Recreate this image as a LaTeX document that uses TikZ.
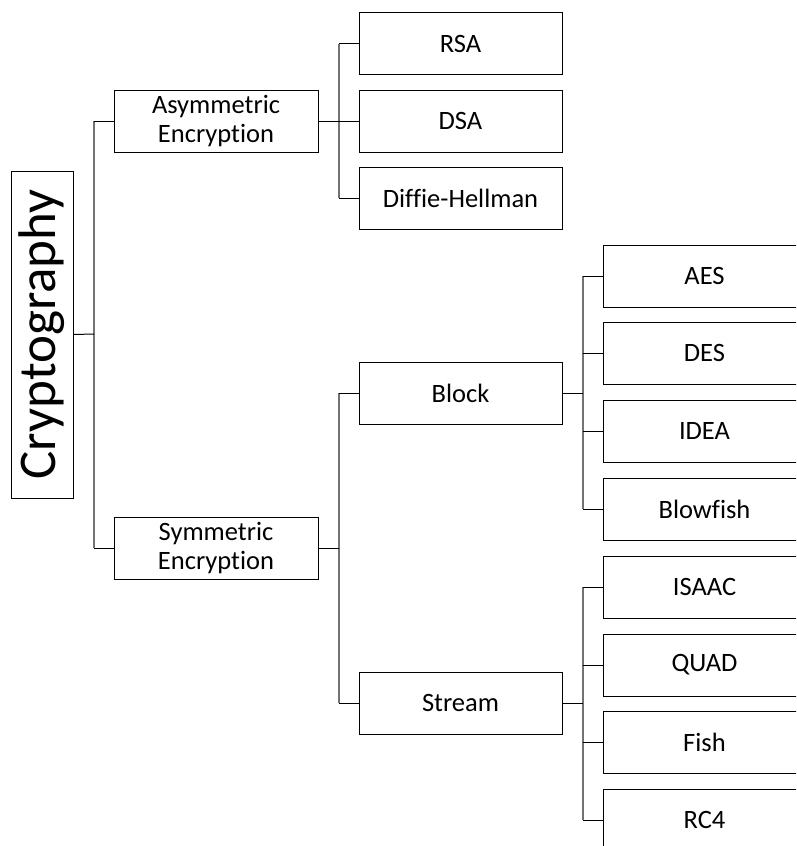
\documentclass[tikz,border=0pt]{standalone}
\usepackage{fontspec}
\setmainfont[Ligatures={NoCommon,NoRare}]{Carlito}
\begin{document}
\begin{tikzpicture}[x=1pt,y=-1pt,
  box/.style={draw=black,line width=1pt,minimum width=203pt,minimum height=62pt,inner sep=0pt,align=center,font=\fontsize{26.5}{29}\selectfont},
  stub/.style={draw=black,line width=1pt},
  spine/.style={draw=black!55,line width=1.3pt}]
\useasboundingbox (0,0) rectangle (796,846);
\clip (0,0) rectangle (796,846);
\node[draw=black,line width=1pt,minimum width=327pt,minimum height=62pt,inner sep=0pt,rotate=90,font=\fontsize{53}{56}\selectfont] (crypto) at (42,334.5) {Cryptography};
\node[box,minimum width=204pt] (asym) at (216,121) {Asymmetric\\Encryption};
\node[box,minimum width=204pt] (sym) at (216,548) {Symmetric\\Encryption};
\node[box] (rsa) at (460.5,43.5) {RSA};
\node[box] (dsa) at (460.5,121) {DSA};
\node[box] (dh) at (460.5,198) {Diffie-Hellman};
\node[box] (block) at (460.5,393) {Block};
\node[box] (stream) at (460.5,703) {Stream};
\node[box] (aes) at (704.5,276) {AES};
\node[box] (des) at (704.5,353) {DES};
\node[box] (idea) at (704.5,431) {IDEA};
\node[box] (blowfish) at (704.5,509) {Blowfish};
\node[box] (isaac) at (704.5,587) {ISAAC};
\node[box] (quad) at (704.5,665) {QUAD};
\node[box] (fish) at (704.5,742) {Fish};
\node[box] (rc4) at (704.5,820) {RC4};
% spine coordinates
\coordinate (c0) at (94,334);
\coordinate (c1) at (339,121);
\coordinate (c2) at (339,548);
\coordinate (c3) at (583,393);
\coordinate (c4) at (583,703);
% root
\draw[spine] (c0 |- asym.west) -- (c0 |- sym.west);
\draw[stub] (crypto.south) -- (c0);
\draw[stub] (c0 |- asym.west) -- (asym.west);
\draw[stub] (c0 |- sym.west) -- (sym.west);
% asymmetric
\draw[spine] (c1 |- rsa.west) -- (c1 |- dh.west);
\draw[stub] (asym.east) -- (c1);
\foreach \n in {rsa,dsa,dh} \draw[stub] (c1 |- \n.west) -- (\n.west);
% symmetric
\draw[spine] (c2 |- block.west) -- (c2 |- stream.west);
\draw[stub] (sym.east) -- (c2);
\foreach \n in {block,stream} \draw[stub] (c2 |- \n.west) -- (\n.west);
% block
\draw[spine] (c3 |- aes.west) -- (c3 |- blowfish.west);
\draw[stub] (block.east) -- (c3);
\foreach \n in {aes,des,idea,blowfish} \draw[stub] (c3 |- \n.west) -- (\n.west);
% stream
\draw[spine] (c4 |- isaac.west) -- (c4 |- rc4.west);
\draw[stub] (stream.east) -- (c4);
\foreach \n in {isaac,quad,fish,rc4} \draw[stub] (c4 |- \n.west) -- (\n.west);
\end{tikzpicture}
\end{document}
